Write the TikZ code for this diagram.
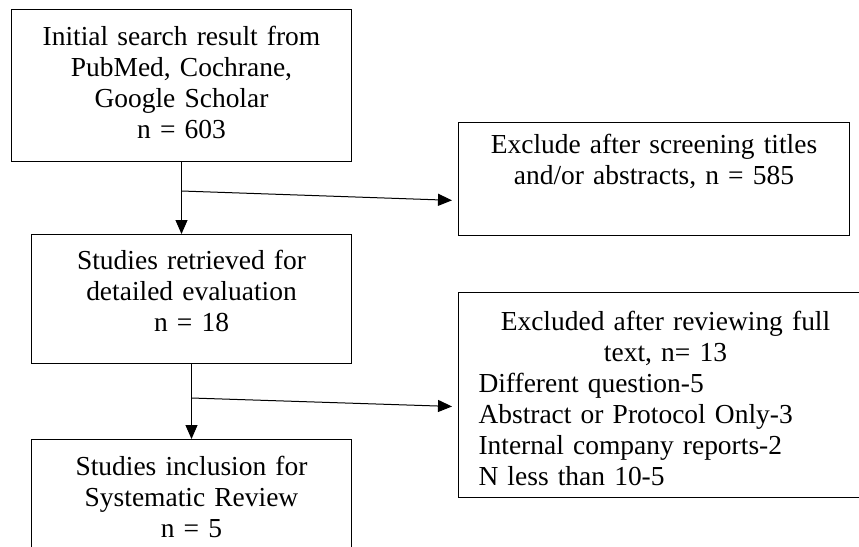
\documentclass[tikz,border=0pt]{standalone}
\usepackage{fontspec}
\setmainfont{Liberation Serif}
\usetikzlibrary{arrows.meta}

\begin{document}
\begin{tikzpicture}[
    x=0.75pt, y=-0.75pt,
    >={Triangle[length=10.5pt,width=9pt]},
    line width=0.75pt,
    every node/.style={font=\fontsize{20.6pt}{23.25pt}\selectfont},
    flowbox/.style={draw, anchor=north west, align=center,
                    inner xsep=0pt, inner ysep=0pt},
]
\useasboundingbox (0,0) rectangle (859,546);

\node[flowbox, text width=255pt, text height=27pt, text depth=87pt]
      (init) at (11,9)
      {Initial search result from\\PubMed, Cochrane,\\Google Scholar\\n = 603};
\node[flowbox, text width=293.25pt, text height=23.25pt, text depth=61.5pt]
      (excl1) at (458,122)
      {Exclude after screening titles\\and/or abstracts, n = 585};
\node[flowbox, text width=240pt, text height=26.25pt, text depth=70.5pt]
      (retr) at (31,234)
      {Studies retrieved for\\detailed evaluation\\n = 18};
\node[flowbox, align=left, inner xsep=15pt, text width=280.5pt,
      text height=28.5pt, text depth=125.25pt]
      (excl2) at (458,292)
      {{\centering Excluded after reviewing full\\text, n= 13\par}
       Different question-5\\Abstract or Protocol Only-3\\
       Internal company reports-2\\N less than 10-5};
\node[flowbox, text width=240pt, text height=27pt, text depth=87pt]
      (incl) at (31,439)
      {Studies inclusion for\\Systematic Review\\n = 5};

\coordinate (br1) at ([yshift=-21.75pt]init.south);
\coordinate (br2) at ([yshift=-25.5pt]retr.south);

\draw[->] (init.south) -- (init.south |- retr.north);
\draw[->] (br1) -- ([xshift=-4.5pt,yshift=-16pt]excl1.west);
\draw[->] (retr.south) -- (retr.south |- incl.north);
\draw[->] (br2) -- ([xshift=-4.5pt,yshift=-8.6pt]excl2.west);

\end{tikzpicture}
\end{document}
